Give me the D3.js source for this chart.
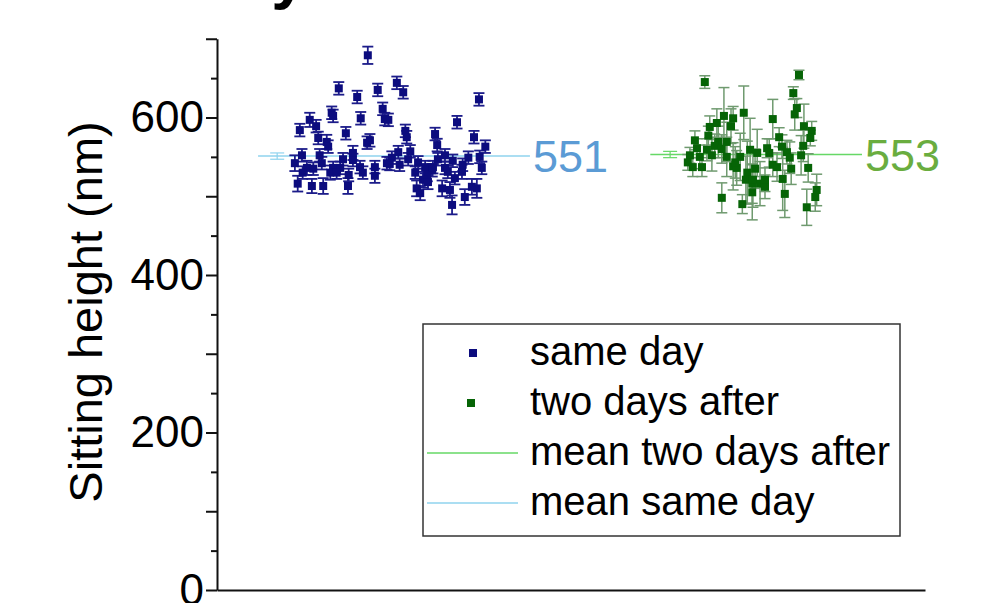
<!DOCTYPE html>
<html>
<head>
<meta charset="utf-8">
<script src="https://cdn.jsdelivr.net/npm/d3@7"></script>
<style>
  body { margin: 0; background: #fff; }
  svg { display: block; }
  text { font-family: "Liberation Sans", Arial, sans-serif; }
</style>
</head>
<body>
<div id="chart"></div>
<script>
// same day measurements (x = measurement index position, y = sitting height in nm)
var sameDayX = [21.3,17.2,19.8,22.7,16.2,16.4,20.3,23.4,23.7,13.1,14.0,11.7,18.2,14.3,15.5,15.7,21.6,21.2,12.0,14.5,19.2,17.8,11.0,14.8,19.2,12.7,13.6,16.4,17.4,20.2,22.3,12.1,16.0,16.9,20.6,18.6,22.3,11.4,13.4,15.0,18.5,24.0,
  25.4,26.3,37.0,24.2,33.9,26.6,26.8,30.8,36.3,31.1,37.9,25.6,27.3,32.2,24.7,27.0,28.4,31.2,33.3,35.5,37.1,24.4,25.8,29.4,30.4,32.2,34.7,37.4,28.0,29.7,32.6,34.6,29.1,29.8,33.6,28.2,31.8,36.0,36.7,28.7,32.9,35.0,33.2,30.5];
var sameDayY = [679,637,626,635,606,602,599,611,598,597,589,584,580,574,569,563,571,568,552,552,555,547,542,542,546,536,535,536,536,537,537,530,530,530,530,527,526,516,513,513,513,542,
  644,632,623,597,594,583,575,579,575,565,563,556,557,552,549,547,543,547,545,549,550,541,540,537,533,536,540,536,530,527,531,531,521,518,523,510,510,512,510,504,508,499,489,537];
var sameDayErr = [11,8,8,8,8,8,8,8,8,9,8,8,8,8,9,8,8,8,8,8,9,8,10,8,8,9,8,8,8,8,8,8,9,8,8,8,9,10,9,10,10,8,
  8,8,8,8,8,8,8,8,8,8,8,8,8,8,8,8,8,8,8,8,8,8,8,8,8,8,8,8,8,8,8,9,10,9,8,10,10,10,12,9,10,10,12,8];

// two days after measurements
var twoDaysX = [68.9,71.6,74.4,70.6,72.9,69.6,72.6,69.4,70.8,72.0,67.5,70.3,67.8,69.2,71.3,66.8,68.2,69.9,72.0,73.9,66.5,67.2,68.5,72.9,73.4,74.9,74.7,75.6,75.6,71.3,74.2,73.2,
  82.2,81.4,81.9,81.6,78.5,82.9,84.0,83.8,79.4,79.8,82.8,77.7,75.3,80.5,76.3,78.0,80.9,82.5,78.5,79.1,76.0,81.1,83.5,79.9,75.7,76.7,77.4,84.7,80.2,84.5,83.3,77.4];
var twoDaysY = [645,602,606,593,599,588,589,577,569,569,571,564,561,559,560,552,550,552,550,550,543,537,537,538,536,530,521,516,505,498,490,543,
  654,631,612,604,598,589,583,574,575,563,564,561,559,556,555,555,549,552,540,537,535,535,536,522,521,516,512,508,503,499,486,521];
var twoDaysErr = [8,36,34,18,15,14,22,12,20,25,12,15,12,14,18,10,15,20,25,30,10,12,12,30,22,40,30,25,35,19,12,20,
  6,8,12,20,25,28,12,10,12,15,20,12,40,15,30,18,20,25,15,18,25,20,18,40,35,28,15,20,30,18,23,15];

// mean lines: value, x extent, position of the mean's own error bar
var meanValues = [551, 553];
var meanErr = [4, 4];
var meanFrom = [5.8, 61.2];
var meanTo = [44.2, 91.1];
var meanBarX = [8.5, 64.0];

var yTicks = d3.range(0, 701, 50);
var legendLabels = ["same day", "two days after", "mean two days after", "mean same day"];

var width = 994, height = 603;

var svg = d3.select("#chart").append("svg")
    .attr("width", width)
    .attr("height", height);

var x = d3.scaleLinear().domain([0, 100]).range([217, 925]);
var y = d3.scaleLinear().domain([0, 700]).range([590, 38.75]);

// title, cut off at the top: only a descender shows
svg.append("text")
    .attr("x", 58).attr("y", -3)
    .style("font-size", "64px").style("font-weight", "bold")
    .text("Stability over time");

// y axis
var yAxis = svg.append("g")
    .attr("transform", "translate(217,0)")
    .call(d3.axisLeft(y)
        .tickValues(yTicks)
        .tickSizeOuter(0)
        .tickPadding(4)
        .tickFormat(function (d) { return d % 200 === 0 ? d : ""; }));
yAxis.select(".domain").attr("stroke", "#111").attr("stroke-width", 2);
yAxis.selectAll(".tick line")
    .attr("stroke", "#111").attr("stroke-width", 2)
    .attr("x2", function (d) { return d % 100 === 0 ? -11 : -6; });
yAxis.selectAll(".tick text")
    .attr("x", -13)
    .style("font-size", "44px")
    .style("font-family", "'Liberation Sans', Arial, sans-serif")
    .attr("fill", "#000");

// x axis (no ticks)
var xAxis = svg.append("g")
    .attr("transform", "translate(0,590)")
    .call(d3.axisBottom(x).tickValues([]).tickSizeOuter(0));
xAxis.select(".domain").attr("stroke", "#111").attr("stroke-width", 2);

svg.append("text")
    .attr("transform", "translate(102,312) rotate(-90)")
    .attr("text-anchor", "middle")
    .style("font-size", "47px")
    .text("Sitting height (nm)");

// mean lines
var meanLineColor = ["#8fd3ee", "#66d866"];
var meanTextColor = ["#5b9bd5", "#6aad3f"];
meanValues.forEach(function (m, i) {
    svg.append("line")
        .attr("x1", x(meanFrom[i])).attr("x2", x(meanTo[i]))
        .attr("y1", y(m)).attr("y2", y(m))
        .attr("stroke", meanLineColor[i]).attr("stroke-width", 1.5);
    var bx = x(meanBarX[i]);
    var g = svg.append("g").attr("stroke", meanLineColor[i]).attr("stroke-width", 1.2);
    g.append("line").attr("x1", bx).attr("x2", bx).attr("y1", y(m - meanErr[i])).attr("y2", y(m + meanErr[i]));
    g.append("line").attr("x1", bx - 7).attr("x2", bx + 7).attr("y1", y(m - meanErr[i])).attr("y2", y(m - meanErr[i]));
    g.append("line").attr("x1", bx - 7).attr("x2", bx + 7).attr("y1", y(m + meanErr[i])).attr("y2", y(m + meanErr[i]));
    svg.append("text")
        .attr("x", x(meanTo[i]) + 3).attr("y", y(m) + 16)
        .attr("fill", meanTextColor[i])
        .style("font-size", "45px")
        .text(m);
});

function drawSeries(xs, ys, errs, barColor, markColor, barWidth) {
    var data = xs.map(function (d, i) { return { x: d, y: ys[i], e: errs[i] }; });
    var g = svg.append("g");
    var bars = g.selectAll(".bar").data(data).enter().append("g")
        .attr("stroke", barColor).attr("stroke-width", barWidth);
    bars.append("line")
        .attr("x1", function (d) { return x(d.x); }).attr("x2", function (d) { return x(d.x); })
        .attr("y1", function (d) { return y(d.y - d.e); }).attr("y2", function (d) { return y(d.y + d.e); });
    bars.append("line")
        .attr("x1", function (d) { return x(d.x) - 5.5; }).attr("x2", function (d) { return x(d.x) + 5.5; })
        .attr("y1", function (d) { return y(d.y - d.e); }).attr("y2", function (d) { return y(d.y - d.e); });
    bars.append("line")
        .attr("x1", function (d) { return x(d.x) - 5.5; }).attr("x2", function (d) { return x(d.x) + 5.5; })
        .attr("y1", function (d) { return y(d.y + d.e); }).attr("y2", function (d) { return y(d.y + d.e); });
    g.selectAll(".pt").data(data).enter().append("rect")
        .attr("x", function (d) { return x(d.x) - 4; })
        .attr("y", function (d) { return y(d.y) - 4; })
        .attr("width", 8).attr("height", 8)
        .attr("fill", markColor);
}

drawSeries(sameDayX, sameDayY, sameDayErr, "#1c1c8a", "#0c0c7e", 1.8);
drawSeries(twoDaysX, twoDaysY, twoDaysErr, "#6f9a6f", "#066406", 1.5);

// legend
var legend = svg.append("g");
legend.append("rect")
    .attr("x", 423).attr("y", 324).attr("width", 477).attr("height", 212)
    .attr("fill", "#fff").attr("stroke", "#333").attr("stroke-width", 1.5);
var legendBase = [365, 415, 465, 515];
legendLabels.forEach(function (t, i) {
    legend.append("text")
        .attr("x", 530).attr("y", legendBase[i])
        .style("font-size", "40px")
        .text(t);
});
legend.append("rect").attr("x", 469).attr("y", 349).attr("width", 8).attr("height", 8).attr("fill", "#0c0c7e");
legend.append("rect").attr("x", 467).attr("y", 399).attr("width", 8).attr("height", 8).attr("fill", "#066406");
legend.append("line").attr("x1", 427).attr("x2", 518).attr("y1", 453).attr("y2", 453)
    .attr("stroke", meanLineColor[1]).attr("stroke-width", 1.5);
legend.append("line").attr("x1", 427).attr("x2", 518).attr("y1", 503).attr("y2", 503)
    .attr("stroke", meanLineColor[0]).attr("stroke-width", 1.5);
</script>
</body>
</html>
